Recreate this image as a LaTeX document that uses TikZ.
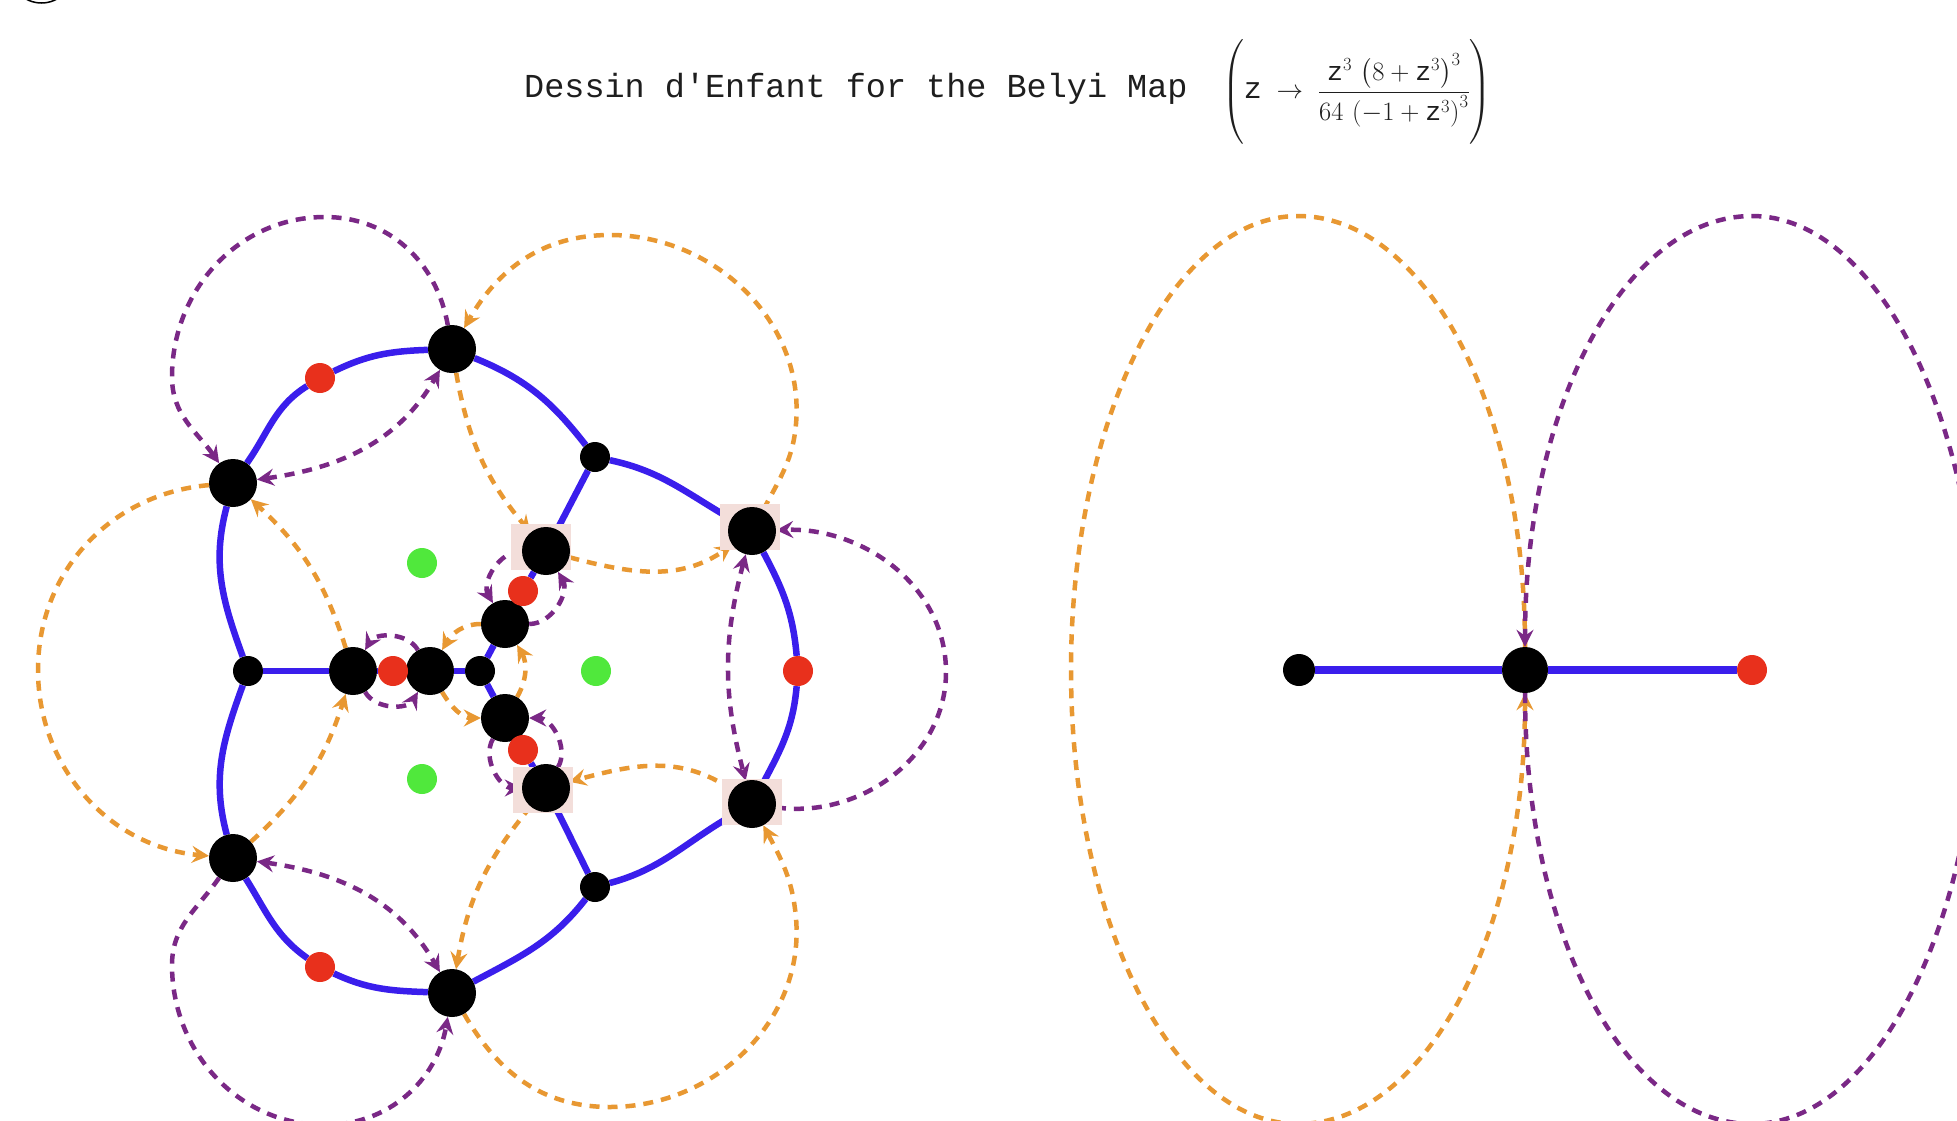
\RequirePackage{fix-cm}
\documentclass[tikz,border=0pt]{standalone}
\usepackage{amsmath}
\usepackage{fontspec}
\newfontfamily\courier{Liberation Mono}
\usetikzlibrary{arrows.meta}
\pgfdeclarelayer{bgl}
\pgfdeclarelayer{edges}
\pgfdeclarelayer{pinks}
\pgfsetlayers{bgl,edges,pinks,main}
\definecolor{dblue}{RGB}{58,30,236}
\definecolor{dred}{RGB}{232,48,28}
\definecolor{dgreen}{RGB}{80,232,60}
\definecolor{dorange}{RGB}{232,152,50}
\definecolor{dpurple}{RGB}{122,40,134}
\definecolor{pinkbg}{RGB}{243,222,218}
\definecolor{titlegray}{RGB}{30,30,30}
\tikzset{
  bigdot/.style={circle, fill=black, inner sep=0pt, minimum size=48pt},
  smalldot/.style={circle, fill=black, inner sep=0pt, minimum size=30pt},
  reddot/.style={circle, fill=dred, inner sep=0pt, minimum size=30pt},
  greendot/.style={circle, fill=dgreen, inner sep=0pt, minimum size=30pt},
  pinksq/.style={rectangle, fill=pinkbg, inner sep=0pt, minimum width=60pt, minimum height=46pt},
  blueedge/.style={draw=dblue, line width=6.5pt},
  odash/.style={draw=dorange, line width=4.5pt, dash pattern=on 10pt off 8pt},
  pdash/.style={draw=dpurple, line width=4.5pt, dash pattern=on 10pt off 8pt},
  endarrow/.style={-{Stealth[length=17pt,width=17pt,inset=6pt]}},
  botharrows/.style={{Stealth[length=17pt,width=17pt,inset=6pt]}-{Stealth[length=17pt,width=17pt,inset=6pt]}},
}
\begin{document}
\begin{tikzpicture}[x=1pt,y=1pt]
\begin{pgfonlayer}{bgl}
\fill[white] (0,0) rectangle (1957,-1120);
\end{pgfonlayer}
\useasboundingbox (0,0) rectangle (1957,-1120);

% stray arc at the top left corner
\draw[line width=1.5pt] (41.5,28.9) circle[radius=31.9];

% title
\node[anchor=base west, inner sep=0pt, text=titlegray, font=\courier\fontsize{33.5}{40}\selectfont] (title) at (524,-97) {Dessin d'Enfant for the Belyi Map};
\node[anchor=west, inner sep=0pt, text=titlegray] (formula) at (1222,-92) {\fontsize{26.5}{32}\selectfont$\left(\vcenter{\hbox{\rule{0pt}{96pt}}}\text{\courier\fontsize{30}{36}\selectfont z}\;\rightarrow\;\dfrac{\text{\courier z}^{3}\,\left(8+\text{\courier z}^{3}\right)^{3}}{64\,\left(-1+\text{\courier z}^{3}\right)^{3}}\right)$};

% waypoints of the dashed loops
\coordinate (pT1) at (325,-217);
\coordinate (pL1) at (172,-377);
\coordinate (pL5) at (172,-965);
\coordinate (pB5) at (325,-1125);
\coordinate (pR3) at (946,-672);
\coordinate (oR2) at (796,-424);
\coordinate (oT2) at (610,-235);
\coordinate (oR6) at (796,-918);
\coordinate (oB6) at (610,-1107);
\coordinate (oL4) at (38,-670);
\coordinate (eoT) at (1298,-216);
\coordinate (eoL) at (1071,-670);
\coordinate (eoB) at (1298,-1124);
\coordinate (epT) at (1752,-216);
\coordinate (epR) at (1979,-670);
\coordinate (epB) at (1752,-1124);

% left dessin: vertices
\node[bigdot] (A1) at (452,-349) {};
\node[bigdot] (A2) at (233,-483) {};
\node[bigdot] (A3) at (233,-858) {};
\node[bigdot] (A4) at (452,-993) {};
\node[bigdot] (A5) at (752,-531) {};
\node[bigdot] (A6) at (752,-804) {};
\node[bigdot] (B1) at (546,-551) {};
\node[bigdot] (B2) at (505,-624) {};
\node[bigdot] (B3) at (353,-671) {};
\node[bigdot] (B4) at (430,-671) {};
\node[bigdot] (B5) at (505,-718) {};
\node[bigdot] (B6) at (546,-788) {};
\node[smalldot] (s0) at (480,-671) {};
\node[smalldot] (s1) at (595,-457) {};
\node[smalldot] (s2) at (248,-671) {};
\node[smalldot] (s3) at (595,-887) {};
\node[reddot] (r1) at (320,-378) {};
\node[reddot] (r2) at (320,-967) {};
\node[reddot] (r3) at (798,-671) {};
\node[reddot] (r4) at (523,-591) {};
\node[reddot] (r5) at (393,-671) {};
\node[reddot] (r6) at (523,-750) {};
\node[greendot] (g1) at (422,-563) {};
\node[greendot] (g2) at (596,-671) {};
\node[greendot] (g3) at (422,-779) {};

% right dessin
\node[smalldot, minimum size=32pt] (RB) at (1299,-670) {};
\node[bigdot, minimum size=46pt] (RC) at (1525,-670) {};
\node[reddot] (RR) at (1752,-670) {};

\begin{pgfonlayer}{pinks}
\node[pinksq] (pkA5) at (750,-527) {};
\node[pinksq] (pkA6) at (752,-802) {};
\node[pinksq] (pkB1) at (541,-547) {};
\node[pinksq] (pkB6) at (543,-790) {};
\end{pgfonlayer}

\begin{pgfonlayer}{edges}
% blue edges, outer ring
\draw[blueedge] (A2) to[out=55,in=-148] (r1);
\draw[blueedge] (r1) to[out=26,in=182] (A1);
\draw[blueedge] (A1) to[out=-22,in=128] (s1);
\draw[blueedge] (s1) to[out=-12,in=150] (A5);
\draw[blueedge] (A5) to[out=-62,in=95] (r3);
\draw[blueedge] (r3) to[out=-95,in=62] (A6);
\draw[blueedge] (A6) to[out=-150,in=15] (s3);
\draw[blueedge] (s3) to[out=-128,in=28] (A4);
\draw[blueedge] (A4) to[out=178,in=-25] (r2);
\draw[blueedge] (r2) to[out=145,in=-58] (A3);
\draw[blueedge] (A3) to[out=105,in=-110] (s2);
\draw[blueedge] (s2) to[out=110,in=-105] (A2);
% blue spokes and inner edges
\draw[blueedge] (s1) -- (B1);
\draw[blueedge] (s2) -- (B3);
\draw[blueedge] (s3) -- (B6);
\draw[blueedge] (B1) -- (r4);
\draw[blueedge] (r4) -- (B2);
\draw[blueedge] (B3) -- (r5);
\draw[blueedge] (r5) -- (B4);
\draw[blueedge] (B5) -- (r6);
\draw[blueedge] (r6) -- (B6);
\draw[blueedge] (s0) -- (B2);
\draw[blueedge] (s0) -- (B4);
\draw[blueedge] (s0) -- (B5);

% purple loops
\draw[pdash, endarrow] (A1) to[out=100,in=0] (pT1) to[out=180,in=90] (pL1) to[out=-90,in=125] (A2);
\draw[pdash, botharrows] (A2) to[out=8,in=-120] (A1);
\draw[pdash, endarrow] (A3) to[out=-125,in=90] (pL5) to[out=-90,in=180] (pB5) to[out=0,in=-100] (A4);
\draw[pdash, botharrows] (A3) to[out=-8,in=120] (A4);
\draw[pdash, endarrow] (A6) to[out=-8,in=-90] (pR3) to[out=90,in=2] (A5);
\draw[pdash, botharrows] (A5) to[out=-105,in=105] (A6);
\draw[pdash, endarrow] (B4) to[out=120,in=60] (B3);
\draw[pdash, endarrow] (B3) to[out=-60,in=-120] (B4);
\draw[pdash, endarrow] (B1) to[out=180,in=120] (B2);
\draw[pdash, endarrow] (B2) to[out=0,in=-60] (B1);
\draw[pdash, endarrow] (B6) to[out=60,in=0] (B5);
\draw[pdash, endarrow] (B5) to[out=-120,in=180] (B6);

% orange loops
\draw[odash, endarrow] (A5) to[out=62,in=-95] (oR2) to[out=85,in=0] (oT2) to[out=180,in=60] (A1);
\draw[odash, endarrow] (A1) to[bend right=15] (B1);
\draw[odash, endarrow] (B1) to[out=-15,in=215] (A5);
\draw[odash, endarrow] (A4) to[out=-60,in=180] (oB6) to[out=0,in=-85] (oR6) to[out=95,in=-62] (A6);
\draw[odash, endarrow] (B6) to[bend right=15] (A4);
\draw[odash, endarrow] (A6) to[out=145,in=15] (B6);
\draw[odash, endarrow] (A2) to[out=185,in=90] (oL4) to[out=-90,in=175] (A3);
\draw[odash, endarrow] (B3) to[bend right=15] (A2);
\draw[odash, endarrow] (A3) to[bend right=15] (B3);
\draw[odash, endarrow] (B2) to[out=180,in=60] (B4);
\draw[odash, endarrow] (B4) to[out=-60,in=180] (B5);
\draw[odash, endarrow] (B5) to[out=60,in=-60] (B2);

% right dessin
\draw[blueedge, line width=8pt] (RB) -- (RC);
\draw[blueedge, line width=8pt] (RC) -- (RR);
\draw[odash, endarrow] (RC) to[out=90,in=0,out distance=245pt,in distance=125pt] (eoT)
  to[out=180,in=90,out distance=125pt,in distance=250pt] (eoL)
  to[out=-90,in=180,out distance=250pt,in distance=125pt] (eoB)
  to[out=0,in=-90,out distance=125pt,in distance=245pt] (RC);
\draw[pdash, endarrow] (RC) to[out=-90,in=180,out distance=245pt,in distance=125pt] (epB)
  to[out=0,in=-90,out distance=125pt,in distance=250pt] (epR)
  to[out=90,in=0,out distance=250pt,in distance=125pt] (epT)
  to[out=180,in=90,out distance=125pt,in distance=245pt] (RC);
\end{pgfonlayer}
\end{tikzpicture}
\end{document}
